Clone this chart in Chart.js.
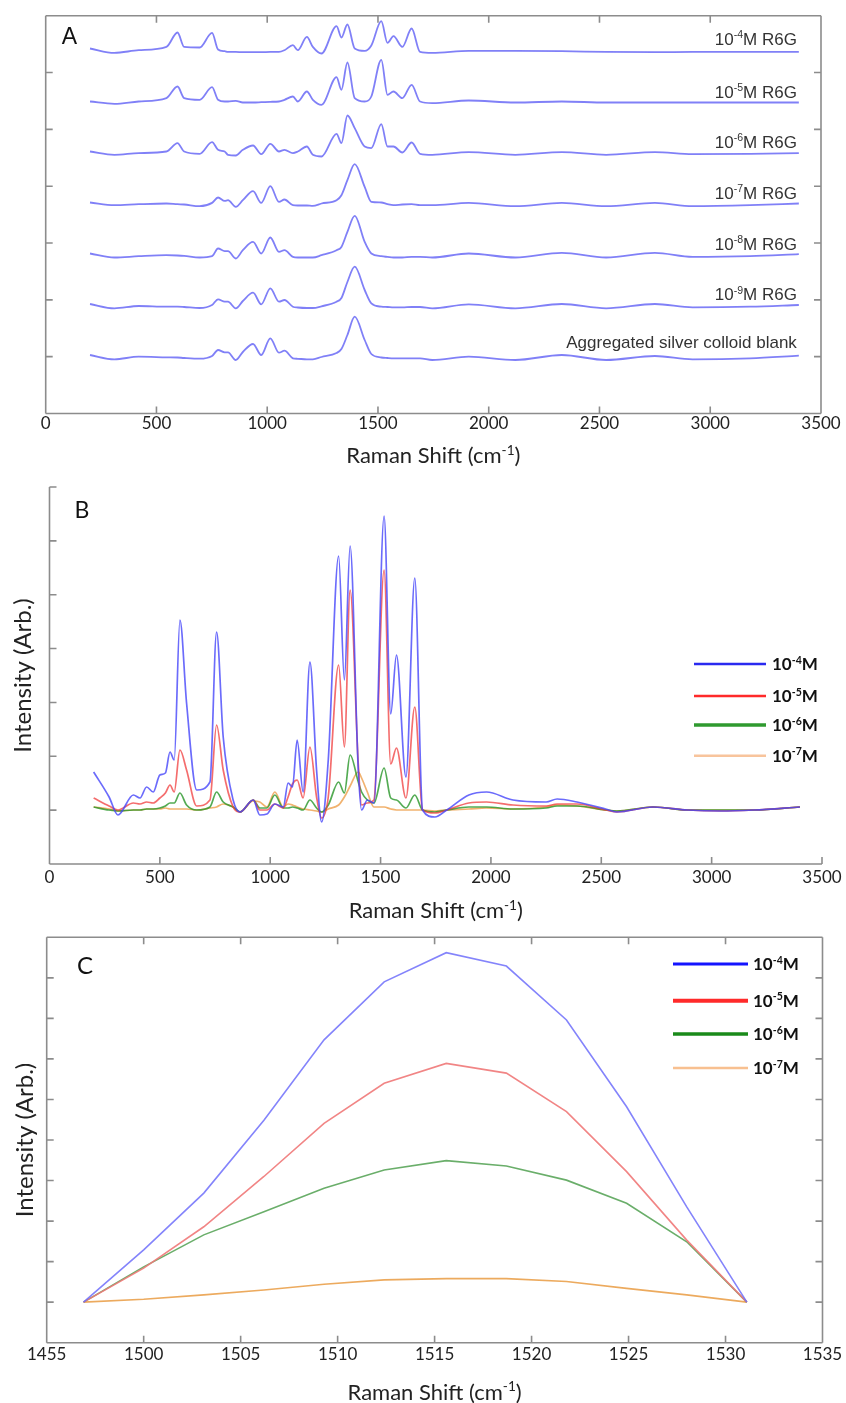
<!DOCTYPE html>
<html><head><meta charset="utf-8">
<script src="https://cdn.jsdelivr.net/npm/chart.js@4.4.1/dist/chart.umd.min.js"></script>
<style>
html,body{margin:0;padding:0;background:#fff;}
#wrap{position:relative;width:846px;height:1403px;overflow:hidden;background:#fff;}
canvas{position:absolute;left:0;}
</style></head><body>
<div id="wrap">
<canvas id="cA" width="846" height="470" style="top:0px"></canvas>
<canvas id="cB" width="846" height="460" style="top:470px"></canvas>
<canvas id="cC" width="846" height="473" style="top:930px"></canvas>
</div>
<script>
// ================= DATA =================
// Panel A: stacked spectra (relative intensity, arb. units) on a shared Raman-shift grid
const waveA = [200, 310, 420, 545, 595, 625, 695, 751, 778, 808, 823, 858, 890, 936, 973, 1014, 1053, 1078, 1116, 1138, 1179, 1206, 1245, 1313, 1335, 1362, 1395, 1440, 1470, 1515, 1543, 1570, 1610, 1652, 1690, 1745, 1910, 2120, 2330, 2530, 2750, 2920, 3180, 3400];
const specA_1e4 = [0,-4.4,-1.7,1.6,16,1.6,1.0,15.6,-1,-2.7, -3.4,-3.4,-3.7,-3.7,-3.7,-3.4,-3.4,-1.7,3.3,-1.7, 11.6,1.6,-5,22.3,11,24,0,-2.4,3,27.3, 5.6,12.3,1.6,20,-3.4,-4.4,-2.4,-2.4,-2.7,-3.4, -3.7,-3.4,-3.4,-3.4];
const specA_1e5 = [0,-2.3,0,3.4,15,3.4,1.7,14.4,1.7,0, 0,0.7,-1,-1,-0.7,-0.3,0,1.7,5,0, 10,1.7,-3.3,24.4,11.7,39,3.4,0,5,41.7, 6.7,10,3.4,16.7,0,-1.6,1,-1,0,-1, -1,-1,-1,-1];
const specA_1e6 = [0,-3.3,-1.6,0,8.4,0,-2.3,9.4,1.7,0, -3.3,-4,1.7,6,-2.6,7.7,0,1.7,-1.6,0, 5,-3.3,-5,17.7,8.4,36,23.4,5,3.4,27.4, 5,5,-1,9,-2.3,-3.3,-0.6,-3.3,-0.6,-3.3, -0.6,-2.6,-2.3,-1.6];
const specA_1e7 = [0,-2.7,-1.7,-1,-1.7,-2,-3.7,-0.4,5,1.6, 2.3,-4.4,2.3,11.3,-0.4,16.3,0.6,3,-2.7,-3, -3,-3.4,-1,2.3,7.3,22.3,38.3,15.6,0.6,0, -1.7,-2.7,-2,-1.7,-2.7,-2.7,-0.4,-3.7,-0.4,-3.7, -0.4,-3.7,-2.7,-1];
const specA_1e8 = [0,-4,-2.7,-1.7,-2,-2.4,-4,-2.7,5,2.3, 2.3,-5,3.3,11.6,0,16,1.6,3.3,-3.4,-4, -4,-4,-1.7,3.3,6.6,21.6,37.6,11.6,0,-2.7, -3.4,-4,-4,-3.4,-3.4,-4,0,-4,0.6,-4, 0.6,-3.4,-2.7,-0.7];
const specA_1e9 = [0,-4.3,-2,-2.7,-2.7,-3,-4,-1,4.7,2.3, 2.3,-4.3,3,11.3,-0.3,15.7,2.3,4,-2.7,-3.5, -4,-4,-2.3,2.3,6,22,37.3,14,0.7,-2.7, -3,-3.4,-3.4,-3,-3,-4.3,-0.3,-4.3,0,-4.3, 0,-3.3,-2.7,-1];
const specA_blank = [0,-4.3,-1.7,-2.3,-2.5,-3,-3.7,-1,5,2.7, 2.7,-5,3,11,0,16.7,2.3,4.3,-3.3,-3.8, -4.3,-4.3,-2,2,6,20,38.3,15,1,-2.5, -3,-3.3,-3.3,-3.3,-3.3,-5,-1.7,-5,0,-5, -1,-4.3,-3.3,-0.7];
const offsetsA = [365, 312, 262, 211, 160, 109.5, 58.5];   // vertical stacking offsets
const expA = ['-4', '-5', '-6', '-7', '-8', '-9'];
const blankLabelA = 'Aggregated silver colloid blank';

// Panel B: overlaid spectra
const waveB = [200, 270, 310, 380, 410, 440, 470, 500, 525, 546, 565, 591, 621, 667, 727, 757, 787, 832, 863, 923, 953, 985, 1021, 1059, 1081, 1101, 1122, 1149, 1180, 1210, 1233, 1263, 1310, 1336, 1362, 1399, 1414, 1440, 1470, 1516, 1546, 1572, 1615, 1655, 1690, 1746, 1800, 1900, 1980, 2100, 2250, 2300, 2390, 2520, 2570, 2735, 2890, 3040, 3190, 3400];
const specB_1e4 = [92,67,49,69,66,77,72,89,91,112, 104,244,161,74,82,232,127,64,52,64, 49,50,60,57,81,77,124,72,202,94, 42,104,308,184,318,94,54,64,61,348, 150,209,87,286,54,47,54,69,72,64, 62,65,62,55,52,57,54,53,54,57];
const specB_1e5 = [66,58,54,61,60,62,61,66,71,79, 72,114,94,58,64,139,94,57,52,64, 54,54,60,56,67,80,84,66,117,67, 46,67,199,117,274,100,59,61,64,294, 100,116,66,157,54,51,54,61,62,59, 58,60,60,54,52,57,54,53,54,57];
const specB_1e6 = [57,54,53,54,54,55,55,56,58,61, 61,71,59,54,57,72,62,57,52,64, 56,56,69,56,56,57,56,54,64,56, 52,59,82,71,109,82,72,64,61,96, 66,64,56,69,54,52,54,57,57,55, 56,58,58,54,53,57,54,54,54,57];
const specB_1e7 = [57,55,53,54,54,55,55,55,56,55, 55,55,55,54,56,57,60,57,52,63, 62,57,72,57,60,59,57,55,54,53, 52,55,59,67,78,92,86,72,57,57, 55,54,54,54,54,53,54,55,56,55, 57,59,58,54,53,57,54,54,54,57];

// Panel C: zoom on the 1515 cm-1 band
const waveC = [1496.9, 1500.0, 1503.1, 1506.2, 1509.3, 1512.4, 1515.6, 1518.7, 1521.8, 1524.9, 1528.0, 1531.1];
const specC_1e4 = [1.0, 2.29, 3.69, 5.49, 7.47, 8.9, 9.62, 9.29, 7.96, 5.82, 3.35, 1.0];
const specC_1e5 = [1.0, 1.84, 2.86, 4.1, 5.41, 6.4, 6.89, 6.65, 5.7, 4.22, 2.53, 1.0];
const specC_1e6 = [1.0, 1.87, 2.66, 3.23, 3.81, 4.26, 4.49, 4.36, 4.01, 3.44, 2.49, 1.0];
const specC_1e7 = [1.0, 1.07, 1.18, 1.30, 1.44, 1.55, 1.58, 1.58, 1.51, 1.34, 1.18, 1.0];
const xTicksC = ['1455', '1500', '1505', '1510', '1515', '1520', '1525', '1530', '1535'];

const seriesExp = ['-4', '-5', '-6', '-7'];
// ================= HELPERS =================
const FONT = 'Lato';
const FRAME = '#8c8c8c';
function pts(xs, ys, off) { return xs.map((x, i) => ({x: x, y: ys[i] + (off || 0)})); }
function richWidth(ctx, parts, size, weight, family) {
  let w = 0;
  for (const p of parts) { const s = p.sup ? size * 0.62 : size; ctx.font = weight + ' ' + s + 'px ' + family; w += ctx.measureText(p.t).width; }
  return w;
}
function drawRich(ctx, parts, x, cy, o) {
  const weight = o.weight || 'normal';
  const w = richWidth(ctx, parts, o.size, weight, o.family);
  let cx = o.align === 'right' ? x - w : (o.align === 'center' ? x - w / 2 : x);
  const base = cy + o.size * 0.36;
  ctx.save(); ctx.fillStyle = o.color; ctx.textAlign = 'left'; ctx.textBaseline = 'alphabetic';
  for (const p of parts) {
    const s = p.sup ? o.size * 0.62 : o.size;
    ctx.font = weight + ' ' + s + 'px ' + o.family;
    ctx.fillText(p.t, cx, p.sup ? base - o.size * 0.38 : base);
    cx += ctx.measureText(p.t).width;
  }
  ctx.restore();
}
function frame(chart, sides, L) {
  const {ctx, chartArea: a, scales: {x, y}} = chart;
  ctx.save(); ctx.strokeStyle = FRAME; ctx.lineWidth = 1.6; ctx.beginPath();
  if (sides.top) { ctx.moveTo(a.left, a.top); ctx.lineTo(a.right, a.top); }
  if (sides.bottom) { ctx.moveTo(a.left, a.bottom); ctx.lineTo(a.right, a.bottom); }
  if (sides.left) { ctx.moveTo(a.left, a.top); ctx.lineTo(a.left, a.bottom); }
  if (sides.right) { ctx.moveTo(a.right, a.top); ctx.lineTo(a.right, a.bottom); }
  for (const t of x.ticks) {
    const p = x.getPixelForValue(t.value);
    if (sides.bottom) { ctx.moveTo(p, a.bottom); ctx.lineTo(p, a.bottom - L); }
    if (sides.top) { ctx.moveTo(p, a.top); ctx.lineTo(p, a.top + L); }
  }
  for (const t of y.ticks) {
    const p = y.getPixelForValue(t.value);
    if (sides.left) { ctx.moveTo(a.left, p); ctx.lineTo(a.left + L, p); }
    if (sides.right) { ctx.moveTo(a.right, p); ctx.lineTo(a.right - L, p); }
  }
  ctx.stroke(); ctx.restore();
}
function xTitle(chart, cy) {
  const a = chart.chartArea;
  drawRich(chart.ctx, [{t: 'Raman Shift (cm'}, {t: '-1', sup: true}, {t: ')'}], (a.left + a.right) / 2, cy,
    {size: 22, family: FONT, color: '#222', align: 'center'});
}
function letter(chart, txt, x, y, size, family) {
  const ctx = chart.ctx; ctx.save(); ctx.fillStyle = '#111'; ctx.font = size + 'px ' + family;
  ctx.textAlign = 'center'; ctx.textBaseline = 'middle'; ctx.fillText(txt, x, y); ctx.restore();
}
function legend(chart, items, x0, x1, ys, tx, size) {
  const ctx = chart.ctx;
  items.forEach((it, i) => {
    ctx.save(); ctx.strokeStyle = it.c; ctx.lineWidth = it.w; ctx.beginPath();
    ctx.moveTo(x0, ys[i]); ctx.lineTo(x1, ys[i]); ctx.stroke(); ctx.restore();
    drawRich(ctx, [{t: '10'}, {t: seriesExp[i], sup: true}, {t: 'M'}], tx, ys[i], {size: size, weight: 'bold', family: FONT, color: '#111'});
  });
}
function xScale(min, max, step, h, pad, cb) {
  return {type: 'linear', min: min, max: max, position: 'bottom',
    grid: {display: false, drawTicks: false}, border: {display: false},
    ticks: {stepSize: step, padding: pad, color: '#222', font: {family: FONT, size: 17}, maxRotation: 0, autoSkip: false,
      callback: cb || (v => String(v))},
    afterFit(s) { s.height = h; }};
}
function yScale(max, step, w, title, tpad) {
  return {type: 'linear', min: 0, max: max, position: 'left',
    grid: {display: false, drawTicks: false}, border: {display: false},
    ticks: {display: false, stepSize: step},
    title: title ? {display: true, text: title, color: '#222', font: {family: FONT, size: 24}, padding: {top: tpad, bottom: 0}} : {display: false},
    afterFit(s) { s.width = w; }};
}
const common = {responsive: false, animation: false, devicePixelRatio: 1, events: [],
  plugins: {legend: {display: false}, tooltip: {enabled: false}}};
function line(label, data, color, width, mono) {
  return {label: label, data: data, borderColor: color, borderWidth: width, pointRadius: 0, fill: false,
    cubicInterpolationMode: mono ? 'monotone' : 'default', tension: 0};
}

// ================= PANEL A =================
const specsA = [specA_1e4, specA_1e5, specA_1e6, specA_1e7, specA_1e8, specA_1e9, specA_blank];
const namesA = ['10^-4M R6G', '10^-5M R6G', '10^-6M R6G', '10^-7M R6G', '10^-8M R6G', '10^-9M R6G', blankLabelA];
const maxA = 397.8;
new Chart(document.getElementById('cA'), {
  type: 'line',
  data: {datasets: specsA.map((s, i) => line(namesA[i], pts(waveA, s, offsetsA[i]), 'rgba(92,92,245,0.78)', 1.8, true))},
  options: Object.assign({}, common, {
    layout: {padding: {top: 15.7, right: 25, bottom: 0, left: 0}},
    scales: {x: xScale(0, 3500, 500, 56.5, 0), y: yScale(maxA, maxA / 7, 45.7, null, 0)}
  }),
  plugins: [{id: 'decoA', afterDraw(chart) {
    frame(chart, {top: 1, bottom: 1, left: 1, right: 1}, 7);
    xTitle(chart, 455);
    letter(chart, 'A', 69.5, 37.7, 23, '"Liberation Sans", Arial, sans-serif');
    const x = chart.scales.x.getPixelForValue(3400) - 2;
    offsetsA.forEach((off, i) => {
      const cy = chart.scales.y.getPixelForValue(off) - (i === 6 ? 13 : 10);
      const parts = i < 6 ? [{t: '10'}, {t: expA[i], sup: true}, {t: 'M R6G'}] : [{t: blankLabelA}];
      drawRich(chart.ctx, parts, x, cy, {size: 17, family: '"Liberation Sans", Arial, sans-serif', color: '#333', align: 'right'});
    });
  }}]
});

// ================= PANEL B =================
const colorsB = ['rgba(70,70,250,0.8)', 'rgba(240,60,60,0.75)', 'rgba(40,150,40,0.8)', 'rgba(240,170,95,0.9)'];
const specsB = [specB_1e4, specB_1e5, specB_1e6, specB_1e7];
const maxB = 377;
new Chart(document.getElementById('cB'), {
  type: 'line',
  data: {datasets: specsB.map((s, i) => line('10' + seriesExp[i] + 'M', pts(waveB, s), colorsB[i], 1.7, true))},
  options: Object.assign({}, common, {
    layout: {padding: {top: 17, right: 24, bottom: 0, left: 0}},
    scales: {x: xScale(0, 3500, 500, 66, 3), y: yScale(maxB, maxB / 7, 49.5, 'Intensity (Arb.)', 9)}
  }),
  plugins: [{id: 'decoB', afterDraw(chart) {
    frame(chart, {bottom: 1, left: 1}, 7);
    xTitle(chart, 440);
    letter(chart, 'B', 82, 40.7, 23, FONT);
    legend(chart, [{c: '#2a2af0', w: 2.5}, {c: '#ff2a2a', w: 2.5}, {c: '#2f9a2f', w: 3.5}, {c: '#f8c49c', w: 2.5}],
      694, 766, [194, 226, 255, 285.7], 772, 17);
  }}]
});

// ================= PANEL C =================
const colorsC = ['rgba(110,110,250,0.85)', 'rgba(240,120,120,0.9)', 'rgba(90,165,90,0.9)', 'rgba(235,165,85,0.95)'];
const specsC = [specC_1e4, specC_1e5, specC_1e6, specC_1e7];
new Chart(document.getElementById('cC'), {
  type: 'line',
  data: {datasets: specsC.map((s, i) => line('10' + seriesExp[i] + 'M', pts(waveC, s), colorsC[i], 1.6, false))},
  options: Object.assign({}, common, {
    layout: {padding: {top: 7.3, right: 23.5, bottom: 0, left: 0}},
    scales: {x: xScale(1495, 1535, 5, 60.3, 2, (v, i) => xTicksC[i]), y: yScale(10, 1, 46.7, 'Intensity (Arb.)', 10.6)}
  }),
  plugins: [{id: 'decoC', afterDraw(chart) {
    frame(chart, {top: 1, bottom: 1, left: 1, right: 1}, 7);
    xTitle(chart, 461.7);
    letter(chart, 'C', 85, 36.7, 24, FONT);
    legend(chart, [{c: '#1414ff', w: 3}, {c: '#ff2a2a', w: 4}, {c: '#1a8a1a', w: 3.5}, {c: '#f8c090', w: 2.5}],
      673, 748, [34, 70.7, 104, 138], 753, 17);
  }}]
});
</script>
</body></html>
